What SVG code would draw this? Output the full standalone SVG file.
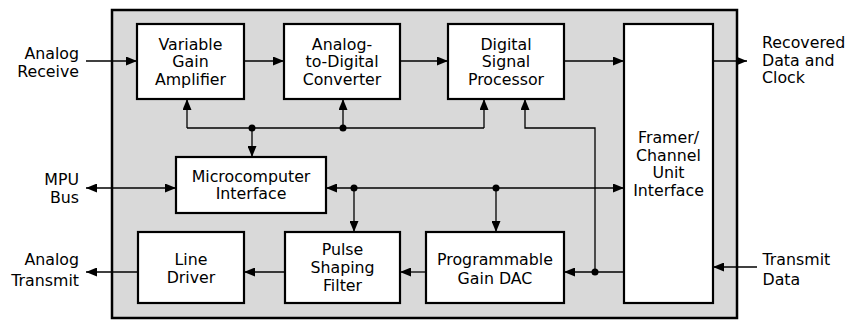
<svg xmlns="http://www.w3.org/2000/svg" width="848" height="320" viewBox="0 0 848 320">
<defs>
<style>
.box{fill:#fff;stroke:#000;stroke-width:2.2}
.outer{fill:#d9d9d9;stroke:#000;stroke-width:2.5}
.ln{fill:none;stroke:#000;stroke-width:1.3}
.arr{marker-end:url(#ah)}
.both{marker-start:url(#ah);marker-end:url(#ah)}
text{font-family:"DejaVu Sans","Liberation Sans",sans-serif;font-size:15.8px;fill:#000}
.c{text-anchor:middle}
.r{text-anchor:end}
</style>
<marker id="ah" markerUnits="userSpaceOnUse" markerWidth="11" markerHeight="9" refX="11" refY="4.5" orient="auto-start-reverse" viewBox="0 0 11 9">
<path d="M0,0 L11,4.5 L0,9 z" fill="#000"/>
</marker>
</defs>
<rect class="outer" x="112" y="10" width="625" height="308"/>
<g id="connectors">
<path class="ln arr" d="M86,61 H137"/>
<path class="ln arr" d="M244,61 H284"/>
<path class="ln arr" d="M400,61 H448"/>
<path class="ln arr" d="M564,61 H624"/>
<path class="ln arr" d="M713,61 H747"/>
<path class="ln" d="M187,128 H484"/>
<path class="ln arr" d="M187,128 V99"/>
<path class="ln arr" d="M484,128 V99"/>
<path class="ln arr" d="M252,128 V157"/>
<path class="ln arr" d="M343,128 V99"/>
<path class="ln arr" d="M595,272 V128 H525 V99"/>
<path class="ln arr" d="M624,272 H564"/>
<path class="ln both" d="M86,188 H176"/>
<path class="ln both" d="M326,188 H624"/>
<path class="ln arr" d="M354,188 V232"/>
<path class="ln arr" d="M496,188 V232"/>
<path class="ln arr" d="M426,272 H400"/>
<path class="ln arr" d="M285,272 H244"/>
<path class="ln arr" d="M138,272 H86"/>
<path class="ln arr" d="M757,267 H713"/>
<circle cx="252" cy="128" r="3.5"/>
<circle cx="343" cy="128" r="3.5"/>
<circle cx="595" cy="272" r="3.5"/>
<circle cx="354" cy="188" r="3.5"/>
<circle cx="496" cy="188" r="3.5"/>
</g>
<g id="vga">
<rect class="box" x="137" y="24" width="107" height="75"/>
<text class="c" x="190.5" y="49.5">Variable</text>
<text class="c" x="190.5" y="67">Gain</text>
<text class="c" x="190.5" y="84.5">Amplifier</text>
</g>
<g id="adc">
<rect class="box" x="284" y="24" width="116" height="75"/>
<text class="c" x="342" y="49.5">Analog-</text>
<text class="c" x="342" y="67">to-Digital</text>
<text class="c" x="342" y="84.5">Converter</text>
</g>
<g id="dsp">
<rect class="box" x="448" y="24" width="116" height="75"/>
<text class="c" x="506" y="49.5">Digital</text>
<text class="c" x="506" y="67">Signal</text>
<text class="c" x="506" y="84.5">Processor</text>
</g>
<g id="framer">
<rect class="box" x="624" y="24" width="89" height="279"/>
<text class="c" x="668.5" y="143">Framer/</text>
<text class="c" x="668.5" y="160.6">Channel</text>
<text class="c" x="668.5" y="178.2">Unit</text>
<text class="c" x="668.5" y="195.8">Interface</text>
</g>
<g id="micro">
<rect class="box" x="176" y="157" width="150" height="56"/>
<text class="c" x="251" y="181.7">Microcomputer</text>
<text class="c" x="251" y="199.3">Interface</text>
</g>
<g id="linedriver">
<rect class="box" x="138" y="232" width="106" height="71"/>
<text class="c" x="191" y="265">Line</text>
<text class="c" x="191" y="283">Driver</text>
</g>
<g id="pulse">
<rect class="box" x="285" y="232" width="115" height="71"/>
<text class="c" x="342.5" y="255">Pulse</text>
<text class="c" x="342.5" y="273">Shaping</text>
<text class="c" x="342.5" y="291">Filter</text>
</g>
<g id="dac">
<rect class="box" x="426" y="232" width="138" height="71"/>
<text class="c" x="495" y="264.5">Programmable</text>
<text class="c" x="495" y="283.5">Gain DAC</text>
</g>
<g id="labels">
<text class="r" x="79" y="59">Analog</text>
<text class="r" x="79" y="76.5">Receive</text>
<text class="r" x="79" y="185">MPU</text>
<text class="r" x="79" y="202.7">Bus</text>
<text class="r" x="79" y="265">Analog</text>
<text class="r" x="79" y="285.5">Transmit</text>
<text x="762" y="47.7">Recovered</text>
<text x="762" y="65.5">Data and</text>
<text x="762" y="83.3">Clock</text>
<text x="762.5" y="265">Transmit</text>
<text x="762.5" y="285">Data</text>
</g>
</svg>
